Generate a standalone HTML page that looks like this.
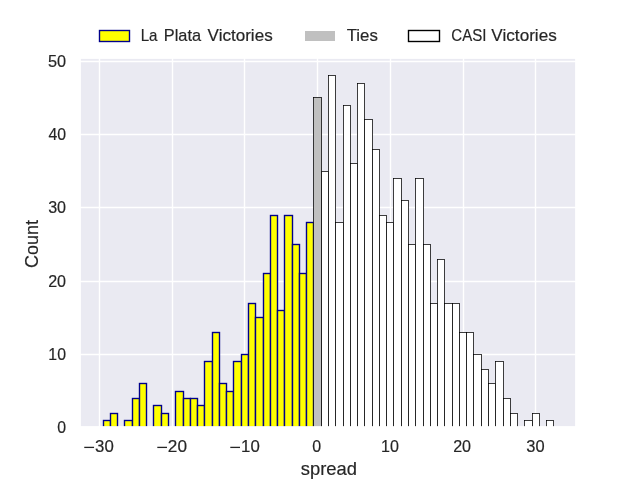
<!DOCTYPE html>
<html><head><meta charset="utf-8"><title>spread histogram</title>
<style>
html,body{margin:0;padding:0;background:#fff;}
body{width:640px;height:480px;overflow:hidden;}
svg{display:block;}
text{font-family:"Liberation Sans",sans-serif;fill:#262626;}
</style></head><body>
<svg width="640" height="480" viewBox="0 0 640 480">
<rect x="0" y="0" width="640" height="480" fill="#ffffff"/>
<defs><clipPath id="ax"><rect x="80" y="58" width="496" height="369"/></clipPath></defs>
<rect x="80" y="58" width="496" height="369" fill="#eaeaf2"/>
<g stroke="#ffffff" stroke-width="1.389" clip-path="url(#ax)">
<line x1="99.5" y1="57.6" x2="99.5" y2="427.2"/>
<line x1="172.5" y1="57.6" x2="172.5" y2="427.2"/>
<line x1="244.5" y1="57.6" x2="244.5" y2="427.2"/>
<line x1="317.5" y1="57.6" x2="317.5" y2="427.2"/>
<line x1="390.5" y1="57.6" x2="390.5" y2="427.2"/>
<line x1="463.5" y1="57.6" x2="463.5" y2="427.2"/>
<line x1="535.5" y1="57.6" x2="535.5" y2="427.2"/>
<line x1="80" y1="427.5" x2="576" y2="427.5"/>
<line x1="80" y1="354.5" x2="576" y2="354.5"/>
<line x1="80" y1="281.5" x2="576" y2="281.5"/>
<line x1="80" y1="207.5" x2="576" y2="207.5"/>
<line x1="80" y1="134.5" x2="576" y2="134.5"/>
<line x1="80" y1="61.5" x2="576" y2="61.5"/>
</g>
<g fill="#ffff00" stroke="#00008b" stroke-width="1.389" stroke-linejoin="miter" clip-path="url(#ax)">
<rect x="103.5" y="420.5" width="7" height="7"/>
<rect x="110.5" y="413.5" width="7" height="14"/>
<rect x="124.5" y="420.5" width="8" height="7"/>
<rect x="132.5" y="398.5" width="7" height="29"/>
<rect x="139.5" y="383.5" width="7" height="44"/>
<rect x="153.5" y="405.5" width="8" height="22"/>
<rect x="161.5" y="413.5" width="7" height="14"/>
<rect x="175.5" y="391.5" width="8" height="36"/>
<rect x="183.5" y="398.5" width="7" height="29"/>
<rect x="190.5" y="398.5" width="7" height="29"/>
<rect x="197.5" y="405.5" width="7" height="22"/>
<rect x="204.5" y="361.5" width="8" height="66"/>
<rect x="212.5" y="332.5" width="7" height="95"/>
<rect x="219.5" y="383.5" width="7" height="44"/>
<rect x="226.5" y="391.5" width="7" height="36"/>
<rect x="233.5" y="361.5" width="8" height="66"/>
<rect x="241.5" y="354.5" width="7" height="73"/>
<rect x="248.5" y="303.5" width="7" height="124"/>
<rect x="255.5" y="317.5" width="8" height="110"/>
<rect x="263.5" y="273.5" width="7" height="154"/>
<rect x="270.5" y="215.5" width="7" height="212"/>
<rect x="277.5" y="310.5" width="7" height="117"/>
<rect x="284.5" y="215.5" width="8" height="212"/>
<rect x="292.5" y="244.5" width="7" height="183"/>
<rect x="299.5" y="273.5" width="7" height="154"/>
<rect x="306.5" y="222.5" width="7" height="205"/>
</g>
<g fill="#ffffff" stroke="#000000" stroke-width="0.757" stroke-linejoin="miter" clip-path="url(#ax)">
<rect x="321.5" y="171.5" width="7" height="256"/>
<rect x="328.5" y="75.5" width="7" height="352"/>
<rect x="335.5" y="222.5" width="8" height="205"/>
<rect x="343.5" y="105.5" width="7" height="322"/>
<rect x="350.5" y="163.5" width="7" height="264"/>
<rect x="357.5" y="83.5" width="7" height="344"/>
<rect x="364.5" y="119.5" width="8" height="308"/>
<rect x="372.5" y="149.5" width="7" height="278"/>
<rect x="379.5" y="215.5" width="7" height="212"/>
<rect x="386.5" y="222.5" width="7" height="205"/>
<rect x="393.5" y="178.5" width="8" height="249"/>
<rect x="401.5" y="200.5" width="7" height="227"/>
<rect x="408.5" y="244.5" width="7" height="183"/>
<rect x="415.5" y="178.5" width="8" height="249"/>
<rect x="423.5" y="244.5" width="7" height="183"/>
<rect x="430.5" y="303.5" width="7" height="124"/>
<rect x="437.5" y="259.5" width="7" height="168"/>
<rect x="444.5" y="303.5" width="8" height="124"/>
<rect x="452.5" y="303.5" width="7" height="124"/>
<rect x="459.5" y="332.5" width="7" height="95"/>
<rect x="466.5" y="332.5" width="7" height="95"/>
<rect x="473.5" y="354.5" width="8" height="73"/>
<rect x="481.5" y="369.5" width="7" height="58"/>
<rect x="488.5" y="383.5" width="7" height="44"/>
<rect x="495.5" y="361.5" width="8" height="66"/>
<rect x="503.5" y="398.5" width="7" height="29"/>
<rect x="510.5" y="413.5" width="7" height="14"/>
<rect x="524.5" y="420.5" width="8" height="7"/>
<rect x="532.5" y="413.5" width="7" height="14"/>
<rect x="546.5" y="420.5" width="7" height="7"/>
</g>
<g fill="#c0c0c0" stroke="#000000" stroke-width="0.757" stroke-linejoin="miter" clip-path="url(#ax)">
<rect x="313.5" y="97.5" width="8" height="330"/>
</g>
<rect x="80" y="58" width="496" height="369" fill="none" stroke="#ffffff" stroke-width="1.736"/>
<g id="txt" opacity="0.999" stroke="#262626" stroke-width="0.18" stroke-linejoin="round">
<text x="95.05" y="452.00" font-size="16" textLength="18.69" lengthAdjust="spacingAndGlyphs">30</text>
<text x="167.87" y="452.00" font-size="16" textLength="19.10" lengthAdjust="spacingAndGlyphs">20</text>
<text x="241.05" y="452.00" font-size="16" textLength="18.67" lengthAdjust="spacingAndGlyphs">10</text>
<text x="312.27" y="452.00" font-size="16" textLength="8.88" lengthAdjust="spacingAndGlyphs">0</text>
<text x="381.11" y="452.00" font-size="16" textLength="17.86" lengthAdjust="spacingAndGlyphs">10</text>
<text x="453.18" y="452.00" font-size="16" textLength="17.90" lengthAdjust="spacingAndGlyphs">20</text>
<text x="526.29" y="452.00" font-size="16" textLength="18.28" lengthAdjust="spacingAndGlyphs">30</text>
<text x="57.27" y="432.80" font-size="16" textLength="8.80" lengthAdjust="spacingAndGlyphs">0</text>
<text x="48.37" y="359.90" font-size="16" textLength="17.58" lengthAdjust="spacingAndGlyphs">10</text>
<text x="48.18" y="286.80" font-size="16" textLength="17.90" lengthAdjust="spacingAndGlyphs">20</text>
<text x="48.17" y="213.00" font-size="16" textLength="17.90" lengthAdjust="spacingAndGlyphs">30</text>
<text x="48.42" y="139.90" font-size="16" textLength="17.57" lengthAdjust="spacingAndGlyphs">40</text>
<text x="48.02" y="66.80" font-size="16" textLength="18.10" lengthAdjust="spacingAndGlyphs">50</text>
<text x="300.76" y="474.90" font-size="18.2" textLength="56.28" lengthAdjust="spacingAndGlyphs">spread</text>
<text transform="translate(38.10,268.02) rotate(-90)" font-size="18.2" textLength="48.10" lengthAdjust="spacingAndGlyphs">Count</text>
<text x="140.73" y="40.60" font-size="15.9" textLength="16.80" lengthAdjust="spacingAndGlyphs">La</text>
<text x="163.81" y="40.60" font-size="15.9" textLength="37.24" lengthAdjust="spacingAndGlyphs">Plata</text>
<text x="207.62" y="40.60" font-size="15.9" textLength="65.06" lengthAdjust="spacingAndGlyphs">Victories</text>
<text x="346.65" y="40.60" font-size="15.9" textLength="31.16" lengthAdjust="spacingAndGlyphs">Ties</text>
<text x="451.31" y="40.60" font-size="15.9" textLength="35.12" lengthAdjust="spacingAndGlyphs">CASI</text>
<text x="491.38" y="40.60" font-size="15.9" textLength="65.42" lengthAdjust="spacingAndGlyphs">Victories</text>
</g>
<rect x="84.25" y="446.75" width="9.81" height="1.3" fill="#262626"/>
<rect x="157.30" y="446.75" width="9.70" height="1.3" fill="#262626"/>
<rect x="230.30" y="446.75" width="9.70" height="1.3" fill="#262626"/>
<rect x="99.5" y="30.5" width="30" height="11" fill="#ffff00" stroke="#00008b" stroke-width="1.389"/>
<rect x="305" y="31" width="30" height="10" fill="#c0c0c0"/>
<rect x="408.5" y="30.5" width="31" height="11" fill="#ffffff" stroke="#000000" stroke-width="1.389"/>
</svg>
</body></html>
